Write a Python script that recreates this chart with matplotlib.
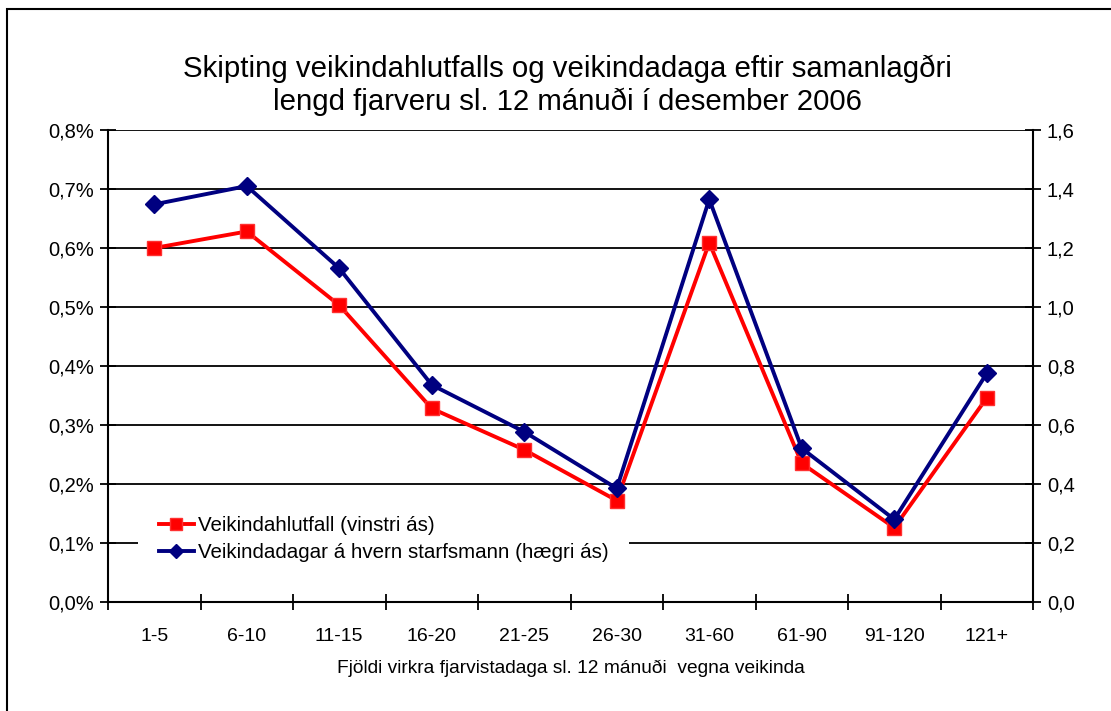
import matplotlib
matplotlib.use("Agg")
import matplotlib.pyplot as plt
from matplotlib.lines import Line2D
from matplotlib.patches import Rectangle

categories = ["1-5", "6-10", "11-15", "16-20", "21-25", "26-30", "31-60", "61-90", "91-120", "121+"]
veikindahlutfall = [0.600, 0.628, 0.503, 0.328, 0.258, 0.172, 0.609, 0.235, 0.126, 0.346]  # % (left axis)
veikindadagar = [1.348, 1.410, 1.131, 0.736, 0.577, 0.385, 1.365, 0.521, 0.280, 0.775]     # days (right axis)
left_ticks = [0.0, 0.1, 0.2, 0.3, 0.4, 0.5, 0.6, 0.7, 0.8]
left_labels = ["0,0%", "0,1%", "0,2%", "0,3%", "0,4%", "0,5%", "0,6%", "0,7%", "0,8%"]
right_ticks = [0.0, 0.2, 0.4, 0.6, 0.8, 1.0, 1.2, 1.4, 1.6]
right_labels = ["0,0", "0,2", "0,4", "0,6", "0,8", "1,0", "1,2", "1,4", "1,6"]

plt.rcParams['font.family'] = ['Liberation Sans', 'DejaVu Sans']

W, H = 1111, 711
fig = plt.figure(figsize=(W / 100, H / 100), dpi=100)
fig.patches.append(Rectangle((7 / W, -0.1), 1.2, 1 - 9 / H + 0.1, transform=fig.transFigure,
                             fill=False, edgecolor='black', linewidth=1.5))

x0, x1, ytop, ybot = 108, 1033, 130, 602
ax = fig.add_axes([x0 / W, (H - ybot) / H, (x1 - x0) / W, (ybot - ytop) / H])
ax2 = ax.twinx()

xs = list(range(len(categories)))
red = '#FF0000'
navy = '#000080'

ax.set_xlim(-0.5, len(categories) - 0.5)
ax.set_ylim(0, 0.8)
ax2.set_ylim(0, 1.6)

for t in left_ticks[1:]:
    ax.axhline(t, color='black', linewidth=1.3, zorder=1)

l1, = ax2.plot(xs, [v * 2 for v in veikindahlutfall], color=red, linewidth=2.8, marker='s',
               markersize=10, markerfacecolor=red, markeredgecolor='#FF3030', zorder=3)
l2, = ax2.plot(xs, veikindadagar, color=navy, linewidth=2.8, marker='D',
               markersize=9.5, markerfacecolor=navy, markeredgecolor=navy, zorder=4)

ax.set_yticks(left_ticks)
ax.set_yticklabels(left_labels, fontsize=14.5)
ax2.set_yticks(right_ticks)
ax2.set_yticklabels(right_labels, fontsize=14.5)

ax.set_xticks([i - 0.5 for i in range(len(categories) + 1)])
ax.set_xticklabels([])
ax.set_xticks(xs, minor=True)
ax.set_xticklabels(categories, minor=True, fontsize=14)
ax.tick_params(axis='x', which='major', direction='inout', length=12, width=1.3)
ax.tick_params(axis='x', which='minor', length=0, pad=19)
ax.tick_params(axis='y', direction='inout', length=12, width=1.3, pad=4)
ax2.tick_params(axis='y', direction='inout', length=12, width=1.3, pad=4)

for a in (ax, ax2):
    a.spines['top'].set_visible(False)
    for s in ('left', 'right', 'bottom'):
        a.spines[s].set_linewidth(1.5)
ax2.spines['left'].set_visible(False)
ax2.spines['bottom'].set_visible(False)
ax.spines['right'].set_visible(False)

ax.set_xlabel("Fjöldi virkra fjarvistadaga sl. 12 mánuði  vegna veikinda", fontsize=13.8, labelpad=10)

fig.text(567.5 / W, 1 - 85.5 / H, "Skipting veikindahlutfalls og veikindadaga eftir samanlagðri\nlengd fjarveru sl. 12 mánuði í desember 2006",
         ha='center', va='center', fontsize=21.2, linespacing=1.2)

leg = ax2.legend([l1, l2], ["Veikindahlutfall (vinstri ás)", "Veikindadagar á hvern starfsmann (hægri ás)"],
                 loc='upper left', bbox_to_anchor=(128 / W, 1 - 485 / H), bbox_transform=fig.transFigure,
                 fontsize=14.8, frameon=True, fancybox=False, edgecolor='none', facecolor='white',
                 framealpha=1, handlelength=1.7, handletextpad=0.2, labelspacing=0.4,
                 borderpad=1.0, markerscale=0.8)
leg.set_zorder(2.5)

fig.savefig("out.png", dpi=100, facecolor='white')
